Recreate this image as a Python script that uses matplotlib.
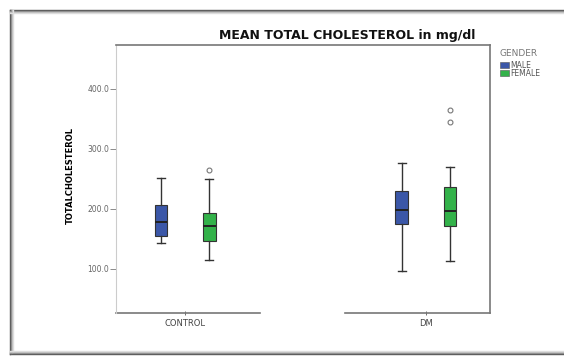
import matplotlib
matplotlib.use("Agg")
import matplotlib.pyplot as plt
from matplotlib.patches import Rectangle
from matplotlib.lines import Line2D

categories = ["CONTROL", "DM"]
genders = ["MALE", "FEMALE"]
# stats per (category, gender)
whislo = {"CONTROL": [144, 115], "DM": [97, 113]}
q1 = {"CONTROL": [155, 147], "DM": [175, 172]}
med = {"CONTROL": [179, 171], "DM": [198, 197]}
q3 = {"CONTROL": [207, 194], "DM": [230, 237]}
whishi = {"CONTROL": [252, 250], "DM": [277, 270]}
fliers = {"CONTROL": [[], [265]], "DM": [[], [345, 365]]}
yticks = [100.0, 200.0, 300.0, 400.0]
colors = ["#3b57a8", "#33b24a"]

W, H = 564, 356
fig = plt.figure(figsize=(W / 100, H / 100), dpi=100)
fig.patch.set_facecolor("white")

def fx(px):
    return px / W
def fy(py):
    return 1 - py / H

# outer shadowed frame
for i, c in enumerate(["#555555", "#888888", "#bbbbbb", "#dddddd"]):
    fig.add_artist(Line2D([fx(10 + i), fx(10 + i)], [fy(10), fy(354 - i)], color=c, lw=1))
    fig.add_artist(Line2D([fx(10), fx(564)], [fy(10 + i), fy(10 + i)], color=c, lw=1))
    fig.add_artist(Line2D([fx(10), fx(564)], [fy(354 - i), fy(354 - i)], color=c, lw=1))

L, R, T, B = 116, 490, 45, 313
ax = fig.add_axes([L / W, 1 - B / H, (R - L) / W, (B - T) / H])
ax.set_xlim(-0.2875, 1.2667)
ax.set_ylim(26.7, 473)

offsets = [-0.1, 0.1]
for ci, cat in enumerate(categories):
    for gi in range(2):
        st = [dict(med=med[cat][gi], q1=q1[cat][gi], q3=q3[cat][gi],
                   whislo=whislo[cat][gi], whishi=whishi[cat][gi],
                   fliers=fliers[cat][gi])]
        ax.bxp(st, positions=[ci + offsets[gi]], widths=0.053, patch_artist=True,
               boxprops=dict(facecolor=colors[gi], edgecolor="#333333", lw=0.8),
               medianprops=dict(color="#222222", lw=1.4),
               whiskerprops=dict(color="#333333", lw=1.0),
               capprops=dict(color="#333333", lw=1.0),
               capwidths=0.033,
               flierprops=dict(marker="o", markersize=3.5, markerfacecolor="none",
                               markeredgecolor="#777777", markeredgewidth=0.8),
               manage_ticks=False)

ax.set_yticks(yticks)
ax.set_yticklabels([f"{v:.1f}" for v in yticks], fontsize=5.5, color="#666666")
ax.set_xticks([0, 1])
ax.set_xticklabels(categories, fontsize=6, color="#444444")
ax.tick_params(axis="y", length=4, width=0.6, color="#777777", pad=1)
ax.tick_params(axis="x", length=3, width=0.6, color="#555555", direction="inout", pad=3)

for s in ["top", "right"]:
    ax.spines[s].set_color("#777777")
    ax.spines[s].set_linewidth(1.2)
ax.spines["left"].set_color("#cccccc")
ax.spines["left"].set_linewidth(0.8)
ax.spines["bottom"].set_visible(False)
# bottom axis line with gap (as in the reference screenshot)
ax.plot([0, (260 - L) / (R - L)], [0, 0], transform=ax.transAxes, color="#777777", lw=1.2, clip_on=False)
ax.plot([(345 - L) / (R - L), 1], [0, 0], transform=ax.transAxes, color="#777777", lw=1.2, clip_on=False)

ax.set_ylabel("TOTALCHOLESTEROL", fontsize=6, fontweight="bold")
ax.yaxis.set_label_coords((75 - L) / (R - L), (B - 175) / (B - T))

fig.text(fx(347), fy(35), "MEAN TOTAL CHOLESTEROL in mg/dl", ha="center", va="center",
         fontsize=9, fontweight="bold", color="#111111")

# legend (outside the plot, at right)
fig.text(fx(499), fy(54), "GENDER", ha="left", va="center", fontsize=6.5, color="#777777")
for i, (g, c) in enumerate(zip(genders, colors)):
    yc = 65 + 8 * i
    fig.add_artist(Rectangle((fx(500), fy(yc + 3)), 9 / W, 6 / H, facecolor=c,
                             edgecolor="#555555", lw=0.4, transform=fig.transFigure))
    fig.text(fx(510), fy(yc), g, ha="left", va="center", fontsize=5.5, color="#555555")

fig.savefig("out.png", dpi=100, facecolor="white")
